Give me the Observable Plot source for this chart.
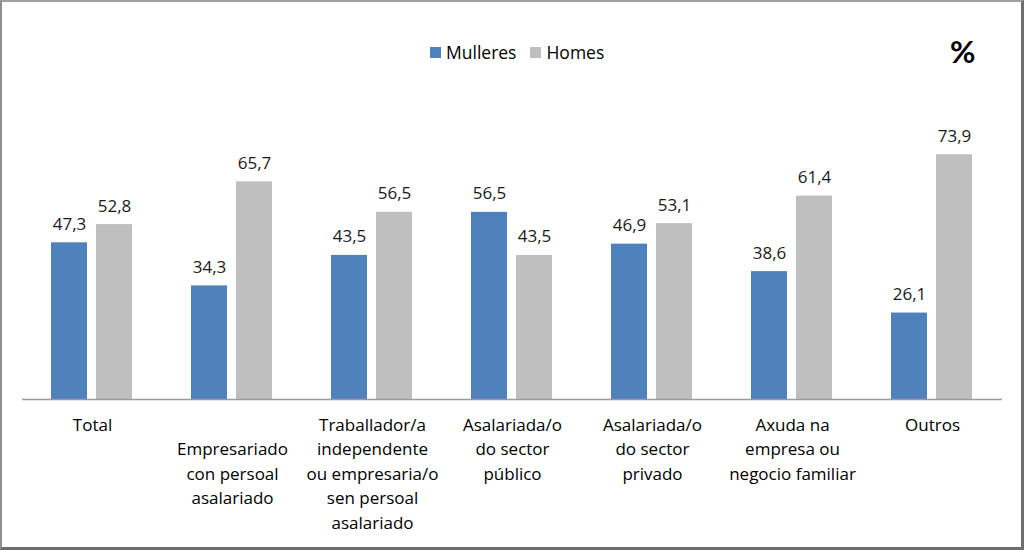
<!DOCTYPE html>
<html><head><meta charset="utf-8">
<script src="https://cdn.jsdelivr.net/npm/d3@7"></script>
<script src="https://cdn.jsdelivr.net/npm/@observablehq/plot@0.6"></script>
<style>
html,body{margin:0;padding:0;background:#fff;}
#wrap{position:relative;width:1024px;height:550px;overflow:hidden;font-family:"Open Sans", Lato, sans-serif;background:#fff;}
#chart{position:absolute;left:0;top:0;}
#legend{position:absolute;top:40px;left:430px;display:flex;align-items:center;font-size:17.5px;color:#000;}
#legend .sw{display:inline-block;width:11px;height:11px;margin-right:5px;}
#legend .item{display:flex;align-items:center;margin-right:14px;}
#pct{position:absolute;left:950px;top:32px;font-family:Lato, sans-serif;font-size:31px;font-weight:bold;color:#000;}
#frame{position:absolute;left:0;top:0;width:1024px;height:550px;box-sizing:border-box;border-left:2px solid #8f8f8f;border-top:2px solid #a0a0a0;border-right:3px solid #6e6e6e;border-bottom:3px solid #6e6e6e;pointer-events:none;}
</style></head>
<body>
<div id="wrap">
  <div id="chart"></div>
  <div id="legend"></div>
  <div id="pct">%</div>
  <div id="frame"></div>
</div>
<script>
const categories = ["Total", "Empresariado con persoal asalariado", "Traballador/a independente ou empresaria/o sen persoal asalariado", "Asalariada/o do sector público", "Asalariada/o do sector privado", "Axuda na empresa ou negocio familiar", "Outros"];
const categoryLabels = ["Total", "\nEmpresariado\ncon persoal\nasalariado", "Traballador/a\nindependente\nou empresaria/o\nsen persoal\nasalariado", "Asalariada/o\ndo sector\npúblico", "Asalariada/o\ndo sector\nprivado", "Axuda na\nempresa ou\nnegocio familiar", "Outros"];
const series = ["Mulleres", "Homes"];
const colors = ["#4F81BD", "#BFBFBF"];
const mulleres = [47.3, 34.3, 43.5, 56.5, 46.9, 38.6, 26.1];
const homes = [52.8, 65.7, 56.5, 43.5, 53.1, 61.4, 73.9];

const rows = [];
categories.forEach((c, i) => {
  rows.push({category: c, series: series[0], value: mulleres[i]});
  rows.push({category: c, series: series[1], value: homes[i]});
});
const catRows = categories.map((c, i) => ({category: c, label: categoryLabels[i]}));
const fmt = v => v.toFixed(1).replace(".", ",");

const plot = Plot.plot({
  width: 1024,
  height: 550,
  marginLeft: 22,
  marginRight: 22,
  marginTop: 134,
  marginBottom: 151,
  style: {fontFamily: "'Open Sans', Lato, sans-serif", background: "transparent"},
  fx: {domain: categories, padding: 0, axis: null},
  x: {domain: series, paddingInner: 0.1957, paddingOuter: 0.6196, axis: null},
  y: {domain: [0, 80], axis: null},
  color: {domain: series, range: colors},
  marks: [
    Plot.barY(rows, {fx: "category", x: "series", y: "value", fill: "series"}),
    Plot.ruleY([0], {stroke: "#9a9a9a", strokeWidth: 1.5}),
    Plot.text(rows, {fx: "category", x: "series", y: "value", text: d => fmt(d.value), lineAnchor: "bottom", dy: -13, fontSize: 17, fill: "#1a1a1a"}),
    Plot.text(catRows, {fx: "category", text: "label", frameAnchor: "bottom", lineAnchor: "top", dy: 14, lineHeight: 1.44, fontSize: 17, fill: "#000"})
  ]
});
document.getElementById("chart").appendChild(plot);

const legend = document.getElementById("legend");
series.forEach((s, i) => {
  const item = document.createElement("span");
  item.className = "item";
  const sw = document.createElement("span");
  sw.className = "sw";
  sw.style.background = colors[i];
  item.appendChild(sw);
  item.appendChild(document.createTextNode(s));
  legend.appendChild(item);
});
</script>
</body></html>
